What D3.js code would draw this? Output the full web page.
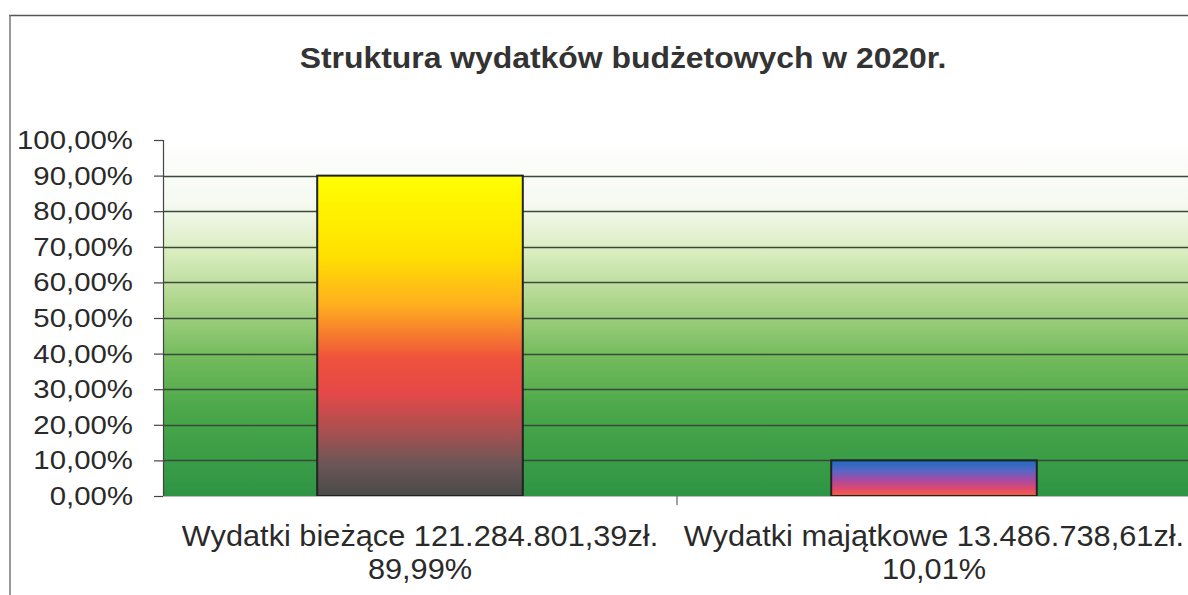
<!DOCTYPE html>
<html>
<head>
<meta charset="utf-8">
<script src="https://cdn.jsdelivr.net/npm/d3@7"></script>
<style>
  html, body { margin: 0; padding: 0; background: #fff; }
  svg { display: block; font-family: "Liberation Sans", Arial, sans-serif; }
</style>
</head>
<body>
<div class="chart"></div>
<script>
// data
const categories = ['Wydatki bieżące', 'Wydatki majątkowe'];
const amounts = ['121.284.801,39', '13.486.738,61'];
const shares = [89.99, 10.01];
const yTicks = [0, 10, 20, 30, 40, 50, 60, 70, 80, 90, 100];
const title = 'Struktura wydatków budżetowych w 2020r.';

const w = 1188;
const h = 595;
const margin = { top: 140, right: -3, bottom: 99, left: 163 };

const pl = d3.formatLocale({ decimal: ',', thousands: '.', grouping: [3], currency: ['', ' zł'] });
const pct = v => pl.format('.2f')(v) + '%';

const svg = d3.select('.chart')
  .append('svg')
  .attr('width', w)
  .attr('height', h);

const defs = svg.append('defs');

function grad(id, stops) {
  const g = defs.append('linearGradient')
    .attr('id', id)
    .attr('x1', 0).attr('y1', 0).attr('x2', 0).attr('y2', 1);
  g.selectAll('stop')
    .data(stops)
    .enter()
    .append('stop')
    .attr('offset', d => d[0])
    .attr('stop-color', d => d[1]);
}

grad('bg', [[0, '#ffffff'], [0.18, '#f5f9f0'], [0.32, '#d8ecbe'], [0.46, '#acd58a'], [0.6, '#76bc5e'], [0.75, '#4ca84a'], [1, '#2e9444']]);
grad('bar0', [[0, '#ffff00'], [0.25, '#ffe000'], [0.4, '#ffb01e'], [0.48, '#f8842c'], [0.57, '#ef523c'], [0.68, '#e44848'], [0.8, '#a85050'], [0.9, '#6c5656'], [1, '#4a4a4a']]);
grad('bar1', [[0, '#1c6cc0'], [0.3, '#5a66c4'], [0.55, '#a84aa2'], [0.8, '#de4a6c'], [1, '#f8603a']]);

const xScale = d3.scaleBand()
  .domain(categories)
  .range([margin.left, w - margin.right])
  .padding(0);

const yScale = d3.scaleLinear()
  .domain([0, 100])
  .range([h - margin.bottom, margin.top]);

// frame
svg.append('line')
  .attr('x1', 9).attr('x2', w).attr('y1', 15.5).attr('y2', 15.5)
  .attr('stroke', '#555').attr('stroke-width', 1.5);
svg.append('line')
  .attr('x1', 10).attr('x2', 10).attr('y1', 15).attr('y2', h)
  .attr('stroke', '#777').attr('stroke-width', 1.5);

// plot background
svg.append('rect')
  .attr('x', margin.left)
  .attr('y', yScale(100))
  .attr('width', w - margin.right - margin.left)
  .attr('height', yScale(0) - yScale(100))
  .attr('fill', 'url(#bg)');

// gridlines
svg.append('g')
  .selectAll('line')
  .data(yTicks.filter(d => d > 0 && d < 100))
  .enter()
  .append('line')
  .attr('x1', margin.left)
  .attr('x2', w)
  .attr('y1', d => Math.round(yScale(d)) + 0.5)
  .attr('y2', d => Math.round(yScale(d)) + 0.5)
  .attr('stroke', '#3a4a3a')
  .attr('stroke-width', 1.3);

// bars
const bw = xScale.bandwidth() * 0.4;
svg.selectAll('.bar')
  .data(shares)
  .enter()
  .append('rect')
  .attr('class', 'bar')
  .attr('x', (d, i) => xScale(categories[i]) + (xScale.bandwidth() - bw) / 2)
  .attr('y', d => yScale(d))
  .attr('width', bw)
  .attr('height', d => yScale(0) - yScale(d))
  .attr('fill', (d, i) => `url(#bar${i})`)
  .attr('stroke', '#222')
  .attr('stroke-width', 2);

// y axis
const yAxis = d3.axisLeft(yScale)
  .tickValues(yTicks)
  .tickSize(9)
  .tickPadding(0)
  .tickFormat(() => '');

const yg = svg.append('g')
  .attr('transform', `translate(${margin.left}, 0)`)
  .call(yAxis);
yg.select('.domain').attr('stroke', '#444').attr('stroke-width', 1.2);
yg.selectAll('.tick line').attr('stroke', '#444').attr('stroke-width', 1.2);

svg.append('g')
  .selectAll('text')
  .data(yTicks)
  .enter()
  .append('text')
  .attr('transform', d => `translate(133, ${yScale(d) + 9}) scale(1.13, 1)`)
  .attr('text-anchor', 'end')
  .attr('font-size', 26)
  .attr('fill', '#2a2a2a')
  .text(d => pct(d));

// x axis
svg.append('line')
  .attr('x1', margin.left).attr('x2', w)
  .attr('y1', yScale(0) + 0.5).attr('y2', yScale(0) + 0.5)
  .attr('stroke', '#bbb').attr('stroke-width', 1.2);
svg.append('g')
  .selectAll('line')
  .data(categories.slice(1))
  .enter()
  .append('line')
  .attr('x1', d => xScale(d)).attr('x2', d => xScale(d))
  .attr('y1', yScale(0)).attr('y2', yScale(0) + 9)
  .attr('stroke', '#666').attr('stroke-width', 1.2);

const cat = svg.append('g')
  .selectAll('g')
  .data(categories)
  .enter()
  .append('g')
  .attr('transform', d => `translate(${xScale(d) + xScale.bandwidth() / 2}, 0)`);

cat.append('text')
  .attr('transform', 'translate(0, 546) scale(1.06, 1)')
  .attr('text-anchor', 'middle')
  .attr('font-size', 29)
  .attr('fill', '#2a2a2a')
  .text((d, i) => `${d} ${amounts[i]}zł.`);

cat.append('text')
  .attr('transform', 'translate(0, 579) scale(1.06, 1)')
  .attr('text-anchor', 'middle')
  .attr('font-size', 29)
  .attr('fill', '#2a2a2a')
  .text((d, i) => pct(shares[i]));

// title
svg.append('text')
  .attr('transform', 'translate(623, 68) scale(1.1, 1)')
  .attr('text-anchor', 'middle')
  .attr('font-size', 29)
  .attr('font-weight', 'bold')
  .attr('fill', '#333')
  .text(title);
</script>
</body>
</html>
